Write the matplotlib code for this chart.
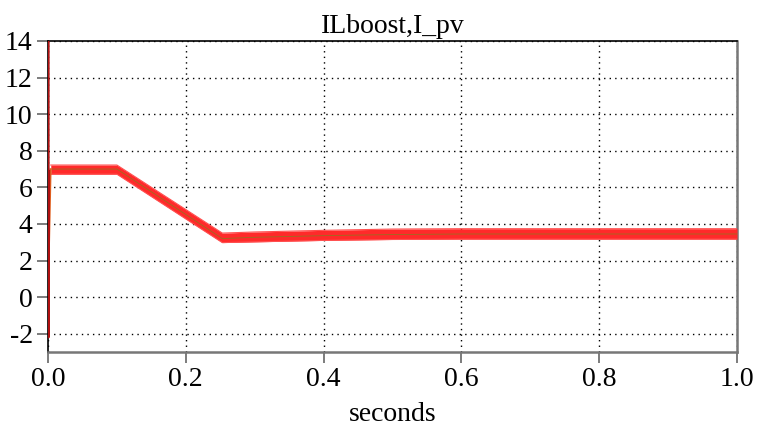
import matplotlib
matplotlib.use("Agg")
import matplotlib.pyplot as plt
import numpy as np

# start-up transient of ILboost (seconds, amps)
t_start = [0.0, 0.0004, 0.0008, 0.0012, 0.0016]
il_start = [0.0, 14.5, -2.2, 4.0, 6.9]

# slow envelope of both currents (seconds, amps)
t_env = [0.004, 0.1, 0.253, 0.3, 0.4, 0.5, 0.6, 0.8, 1.0]
mean_env = [7.0, 7.0, 3.2, 3.27, 3.36, 3.42, 3.45, 3.45, 3.45]
upper_env = [7.22, 7.22, 3.5, 3.56, 3.65, 3.72, 3.74, 3.74, 3.74]
lower_env = [6.72, 6.72, 2.98, 3.02, 3.1, 3.15, 3.17, 3.17, 3.17]

# I_pv start (seconds, amps)
t_pv = [0.0, 0.004]
pv_start = [0.0, 7.0]

xticks = [0.0, 0.2, 0.4, 0.6, 0.8, 1.0]
xticklabels = ["0.0", "0.2", "0.4", "0.6", "0.8", "1.0"]
yticks = [-2, 0, 2, 4, 6, 8, 10, 12, 14]

plt.rcParams['font.family'] = ['Liberation Serif', 'DejaVu Serif']
plt.rcParams['axes.unicode_minus'] = False

fig = plt.figure(figsize=(7.59, 4.28), dpi=100)
ax = fig.add_axes([48/759, 1-352/428, (737-48)/759, (352-41)/428])

ax.fill_between(t_env, lower_env, upper_env, color='#ff2a2a', linewidth=0, zorder=3)
ax.plot(t_env, upper_env, color='#ff5050', lw=0.8, zorder=3)
ax.plot(t_env, lower_env, color='#ff5050', lw=0.8, zorder=3)
ax.plot(t_env, mean_env, color='#5a9a1a', lw=0.6, alpha=0.6, zorder=4)
ax.plot(t_pv, pv_start, color='#e06020', lw=1.2, zorder=4)
ax.plot(t_start, il_start, color='#b01010', lw=1.5, zorder=5)

ax.set_xlim(0, 1.0)
ax.set_ylim(-3, 14)
ax.set_xticks(xticks)
ax.set_xticklabels(xticklabels)
ax.set_yticks(yticks)
ax.tick_params(axis='both', labelsize=20, direction='out', length=8, width=1.2, color='#666666', pad=3)
ax.grid(True, color='black', linestyle=(0, (1, 3)), linewidth=1.0, zorder=1)

for side in ['bottom', 'right']:
    ax.spines[side].set_color('#777777')
    ax.spines[side].set_linewidth(1.8)
ax.spines['top'].set_color('black')
ax.spines['top'].set_linewidth(1.2)
ax.spines['left'].set_color('black')
ax.spines['left'].set_linewidth(1.2)

ax.set_title("ILboost,I_pv", fontsize=20, pad=6)
ax.set_xlabel("seconds", fontsize=20, labelpad=7)

fig.savefig("out.png", dpi=100)
